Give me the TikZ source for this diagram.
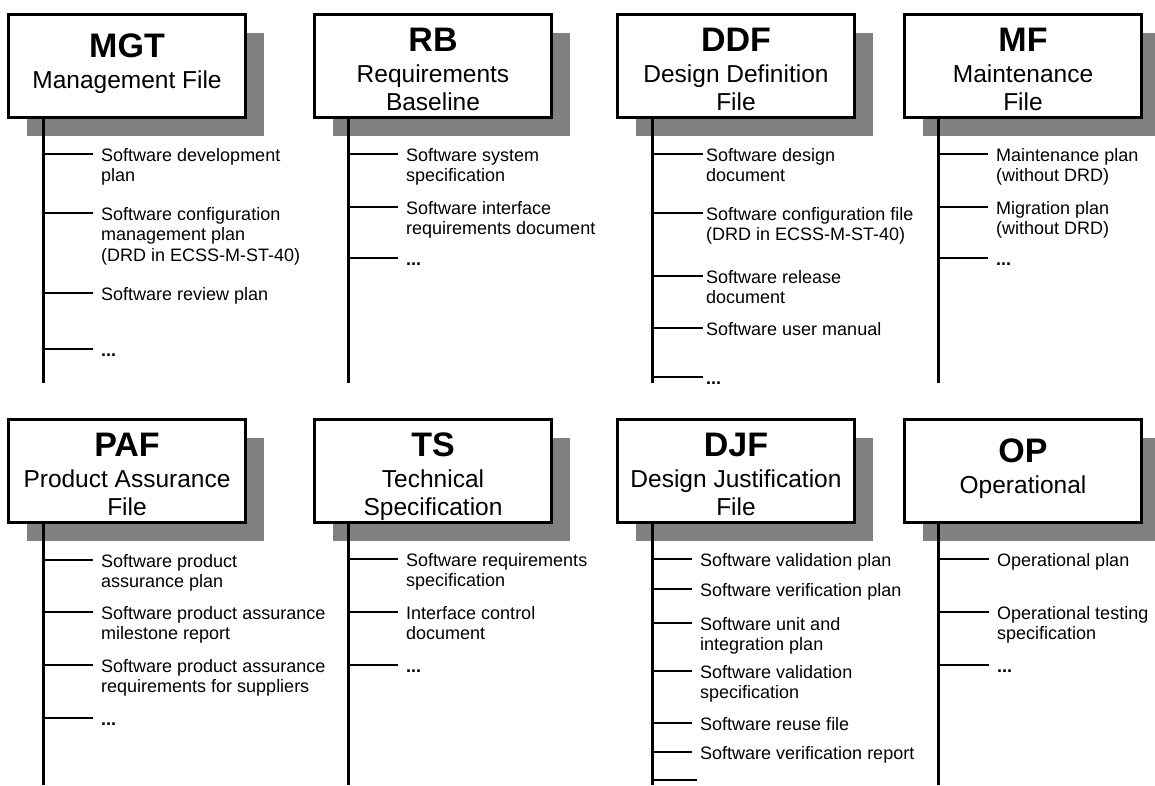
\documentclass[tikz,border=0pt]{standalone}
\usepackage{fontspec}
\setmainfont{Liberation Sans}
\usetikzlibrary{shadows}
\newcommand{\boxlines}[2]{\begin{tabular}[t]{@{}c@{}}{\fontsize{34}{36}\selectfont\bfseries #1}\\[3pt]#2\end{tabular}}
\newcommand{\itemlines}[1]{\begin{tabular}[t]{@{}l@{}}#1\end{tabular}}

\begin{document}
\begin{tikzpicture}[x=1pt,y=-1pt,
	filebox/.style={draw,line width=3pt,fill=white,minimum width=237pt,minimum height=103pt,inner sep=0pt,anchor=north west,
		drop shadow={shadow xshift=18pt,shadow yshift=-18pt,fill=gray,opacity=1}},
	filetext/.style={anchor=north,inner sep=0pt,text height=38pt,text depth=0pt,font=\fontsize{24.5}{28}\selectfont},
	spine/.style={line width=3pt},
	branch/.style={line width=2pt},
	item/.style={anchor=west,inner xsep=8pt,inner ysep=0pt,text height=14pt,text depth=0pt,font=\fontsize{18}{20.5}\selectfont}]
	\useasboundingbox (0,0) rectangle (1155,785);

	\node[filebox] (mgt) at (7,13) {};
	\node[filetext,text height=44pt] (mgt-t) at (mgt.north) {\boxlines{MGT}{Management File}};
	\coordinate (mgt-end) at (43,383);
	\draw[spine] (mgt.south -| mgt-end) -- (mgt-end);
	\node[item] (mgt1) at (93,154) {\itemlines{Software development\\plan}};
	\node[item] (mgt2) at (93,213) {\itemlines{Software configuration\\management plan\\(DRD in ECSS-M-ST-40)}};
	\node[item] (mgt3) at (93,293) {\itemlines{Software review plan}};
	\node[item] (mgt4) at (93,349) {\itemlines{\textbf{...}}};
	\foreach \i in {1,...,4}
		\draw[branch] (mgt\i.west -| mgt-end) -- (mgt\i.west);

	\node[filebox] (rb) at (313,13) {};
	\node[filetext] (rb-t) at (rb.north) {\boxlines{RB}{Requirements\\Baseline}};
	\coordinate (rb-end) at (348,383);
	\draw[spine] (rb.south -| rb-end) -- (rb-end);
	\node[item] (rb1) at (398,154) {\itemlines{Software system\\specification}};
	\node[item] (rb2) at (398,207) {\itemlines{Software interface\\requirements document}};
	\node[item] (rb3) at (398,258) {\itemlines{\textbf{...}}};
	\foreach \i in {1,...,3}
		\draw[branch] (rb\i.west -| rb-end) -- (rb\i.west);

	\node[filebox] (ddf) at (616,13) {};
	\node[filetext] (ddf-t) at (ddf.north) {\boxlines{DDF}{Design Definition\\File}};
	\coordinate (ddf-end) at (652,383);
	\draw[spine] (ddf.south -| ddf-end) -- (ddf-end);
	\node[item,inner xsep=3pt] (ddf1) at (703,154) {\itemlines{Software design\\document}};
	\node[item,inner xsep=3pt] (ddf2) at (703,213) {\itemlines{Software configuration file\\(DRD in ECSS-M-ST-40)}};
	\node[item,inner xsep=3pt] (ddf3) at (703,276) {\itemlines{Software release\\document}};
	\node[item,inner xsep=3pt] (ddf4) at (703,328) {\itemlines{Software user manual}};
	\node[item,inner xsep=3pt] (ddf5) at (703,377) {\itemlines{\textbf{...}}};
	\foreach \i in {1,...,5}
		\draw[branch] (ddf\i.west -| ddf-end) -- (ddf\i.west);

	\node[filebox] (mf) at (903,13) {};
	\node[filetext] (mf-t) at (mf.north) {\boxlines{MF}{Maintenance\\File}};
	\coordinate (mf-end) at (938,383);
	\draw[spine] (mf.south -| mf-end) -- (mf-end);
	\node[item] (mf1) at (988,154) {\itemlines{Maintenance plan\\(without DRD)}};
	\node[item] (mf2) at (988,207) {\itemlines{Migration plan\\(without DRD)}};
	\node[item] (mf3) at (988,258) {\itemlines{\textbf{...}}};
	\foreach \i in {1,...,3}
		\draw[branch] (mf\i.west -| mf-end) -- (mf\i.west);

	\node[filebox] (paf) at (7,418) {};
	\node[filetext] (paf-t) at (paf.north) {\boxlines{PAF}{Product Assurance\\File}};
	\coordinate (paf-end) at (43,785);
	\draw[spine] (paf.south -| paf-end) -- (paf-end);
	\node[item] (paf1) at (93,560) {\itemlines{Software product\\assurance plan}};
	\node[item] (paf2) at (93,612) {\itemlines{Software product assurance\\milestone report}};
	\node[item] (paf3) at (93,665) {\itemlines{Software product assurance\\requirements for suppliers}};
	\node[item] (paf4) at (93,718) {\itemlines{\textbf{...}}};
	\foreach \i in {1,...,4}
		\draw[branch] (paf\i.west -| paf-end) -- (paf\i.west);

	\node[filebox] (ts) at (313,418) {};
	\node[filetext] (ts-t) at (ts.north) {\boxlines{TS}{Technical\\Specification}};
	\coordinate (ts-end) at (348,785);
	\draw[spine] (ts.south -| ts-end) -- (ts-end);
	\node[item] (ts1) at (398,559) {\itemlines{Software requirements\\specification}};
	\node[item] (ts2) at (398,612) {\itemlines{Interface control\\document}};
	\node[item] (ts3) at (398,665) {\itemlines{\textbf{...}}};
	\foreach \i in {1,...,3}
		\draw[branch] (ts\i.west -| ts-end) -- (ts\i.west);

	\node[filebox] (djf) at (616,418) {};
	\node[filetext] (djf-t) at (djf.north) {\boxlines{DJF}{Design Justification\\File}};
	\coordinate (djf-end) at (652,785);
	\draw[spine] (djf.south -| djf-end) -- (djf-end);
	\node[item] (djf1) at (692,559) {\itemlines{Software validation plan}};
	\node[item] (djf2) at (692,589) {\itemlines{Software verification plan}};
	\node[item] (djf3) at (692,623) {\itemlines{Software unit and\\integration plan}};
	\node[item] (djf4) at (692,671) {\itemlines{Software validation\\specification}};
	\node[item] (djf5) at (692,723) {\itemlines{Software reuse file}};
	\node[item] (djf6) at (692,752) {\itemlines{Software verification report}};
	\coordinate (djf7) at (697,780);
	\foreach \i in {1,...,6}
		\draw[branch] (djf\i.west -| djf-end) -- (djf\i.west);
	\draw[branch] (djf7 -| djf-end) -- (djf7);

	\node[filebox] (op) at (903,418) {};
	\node[filetext,text height=44pt] (op-t) at (op.north) {\boxlines{OP}{Operational}};
	\coordinate (op-end) at (938,785);
	\draw[spine] (op.south -| op-end) -- (op-end);
	\node[item] (op1) at (989,559) {\itemlines{Operational plan}};
	\node[item] (op2) at (989,612) {\itemlines{Operational testing\\specification}};
	\node[item] (op3) at (989,665) {\itemlines{\textbf{...}}};
	\foreach \i in {1,...,3}
		\draw[branch] (op\i.west -| op-end) -- (op\i.west);
\end{tikzpicture}
\end{document}
